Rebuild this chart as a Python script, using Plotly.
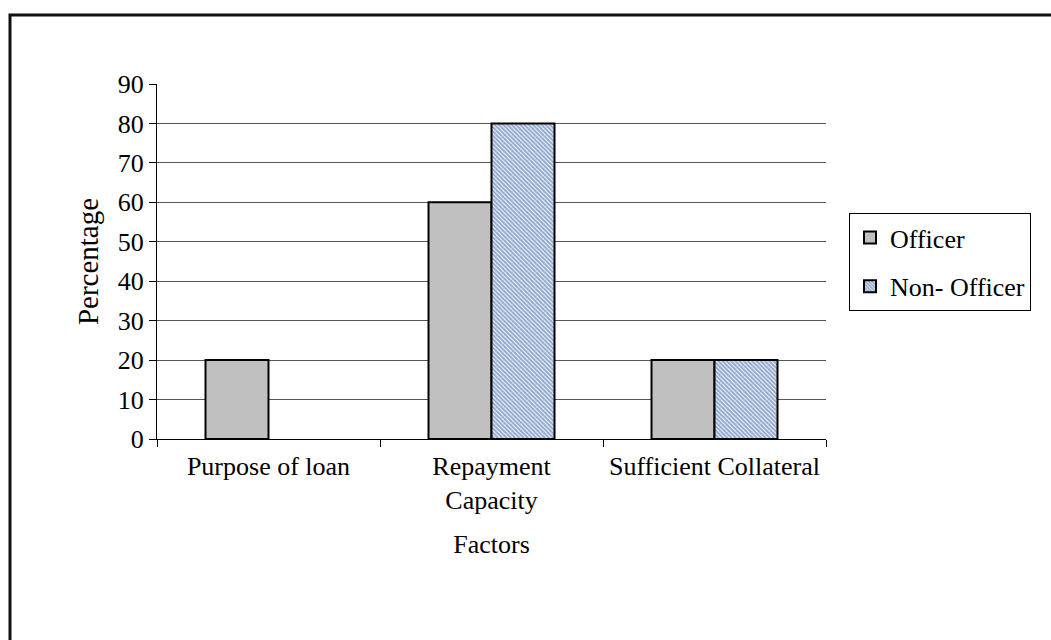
import plotly.graph_objects as go

# Survey results: factors considered when appraising a loan application
factors = ["Purpose of loan", "Repayment<br>Capacity", "Sufficient Collateral"]
officer = [20, 60, 20]
non_officer = [None, 80, 20]
y_ticks = [0, 10, 20, 30, 40, 50, 60, 70, 80, 90]

SERIF = "Liberation Serif, Times New Roman, serif"

fig = go.Figure()
fig.add_trace(go.Bar(
    name="Officer", x=factors, y=officer, legendgroup="a",
    marker=dict(color="#c0c0c0", line=dict(color="black", width=2)),
))
fig.add_trace(go.Bar(
    name="Non- Officer", x=factors, y=non_officer, legendgroup="b",
    marker=dict(color="white", line=dict(color="black", width=2),
                pattern=dict(shape="\\", fgcolor="#24559a", bgcolor="white",
                             size=3, solidity=0.7)),
))

# Plot area: x 157..826 px, y 84..439 px in a 1051x640 canvas
L, R, T, B = 157, 826, 84, 439
W, H = R - L, B - T


def px(x):
    return (x - L) / W


def py(y):
    return (B - y) / H


# Outer frame, open to the right and bottom
fig.add_shape(type="path", xref="paper", yref="paper",
              path=f"M {px(1100)} {py(15)} L {px(10)} {py(15)} L {px(10)} {py(700)}",
              line=dict(color="#111111", width=3))

fig.update_layout(
    width=1051, height=640,
    margin=dict(l=L, r=1051 - R, t=T, b=640 - B),
    paper_bgcolor="white", plot_bgcolor="white",
    barmode="group", bargap=0.435, bargroupgap=0,
    font=dict(family=SERIF, size=26, color="black"),
    showlegend=True,
    legend=dict(x=px(849), y=py(213), xanchor="left", yanchor="top",
                bordercolor="black", borderwidth=1, bgcolor="white",
                font=dict(family=SERIF, size=26, color="black"),
                tracegroupgap=12, traceorder="grouped", itemwidth=30),
)
fig.update_xaxes(
    type="category", showline=True, linecolor="black", linewidth=1,
    ticks="outside", tickson="boundaries", ticklen=7, tickcolor="black",
    showgrid=False, tickfont=dict(family=SERIF, size=26), ticklabelstandoff=4,
    title=dict(text="Factors", font=dict(family=SERIF, size=26), standoff=20),
)
fig.update_yaxes(
    range=[0, 90], tickvals=y_ticks, showline=True, linecolor="black", linewidth=1,
    ticks="outside", ticklen=7, tickcolor="black",
    showgrid=True, gridcolor="#555555", gridwidth=1, zeroline=False,
    tickfont=dict(family=SERIF, size=26),
    title=dict(text="Percentage", font=dict(family=SERIF, size=29), standoff=10),
)

fig.write_html("out.html")
